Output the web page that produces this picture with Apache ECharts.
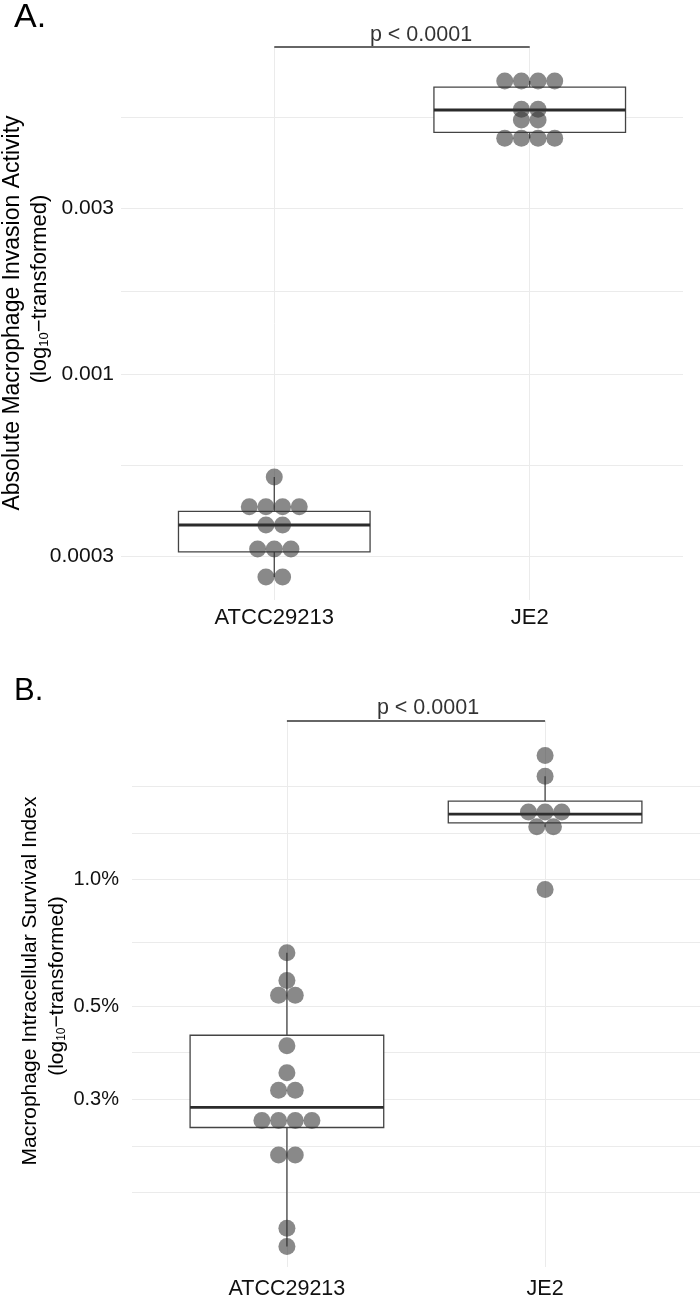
<!DOCTYPE html>
<html>
<head>
<meta charset="utf-8">
<script src="https://cdn.jsdelivr.net/npm/echarts@6/dist/echarts.min.js"></script>
<style>
  html, body { margin: 0; background: #fff; }
  #container { width: 700px; height: 1300px; }
</style>
</head>
<body>
<div id="container"></div>
<script>
const categories = ['ATCC29213', 'JE2'];

// A. absolute macrophage invasion activity
const atccInvasion = [0.000506, 0.000415, 0.000415, 0.000415, 0.000415, 0.000368, 0.000368,
                      0.000314, 0.000314, 0.000314, 0.000261, 0.000261];
const je2Invasion = [0.00695, 0.00695, 0.00695, 0.00695, 0.00577, 0.00577, 0.00537, 0.00537,
                     0.00476, 0.00476, 0.00476, 0.00476];
// [lower whisker, Q1, median, Q3, upper whisker]
const atccInvasionBox = [0.000261, 0.000308, 0.000368, 0.000403, 0.000506];
const je2InvasionBox = [0.00476, 0.00495, 0.00574, 0.00668, 0.00695];
const invasionBreaks = [0.0003, 0.001, 0.003];
const invasionLabels = ['0.0003', '0.001', '0.003'];
const invasionLimits = [0.000224, 0.00871];

// B. macrophage intracellular survival index (%)
const atccSurvival = [0.669, 0.575, 0.530, 0.530, 0.402, 0.347, 0.315, 0.315,
                      0.267, 0.267, 0.267, 0.267, 0.221, 0.221, 0.148, 0.134];
const je2Survival = [1.971, 1.759, 1.447, 1.447, 1.447, 1.334, 1.334, 0.947];
const atccSurvivalBox = [0.134, 0.257, 0.287, 0.426, 0.669];
const je2SurvivalBox = [1.334, 1.363, 1.431, 1.536, 1.759];
const survivalBreaks = [0.3, 0.5, 1.0];
const survivalLabels = ['0.3%', '0.5%', '1.0%'];
const survivalLimits = [0.1197, 2.382];

const pLabel = 'p < 0.0001';

const FONT = 'Liberation Sans, Arial, Helvetica, sans-serif';
const gridColor = '#ebebeb';
const boxColor = '#444';
const dotColor = 'rgba(50,50,50,0.72)';
const dotSize = 17;
const boxWidth = 0.75;

const gridA = { left: 121, top: 47, width: 562, height: 553 };
const gridB = { left: 132, top: 721, width: 568, height: 551 };

const log10 = v => Math.log10(v);

// ggplot-style minor breaks: midpoints between majors, extended one step past each end
function gridValues(breaks, limits) {
  const lo = log10(limits[0]), hi = log10(limits[1]);
  let b = breaks.map(log10);
  const bd = b[1] - b[0];
  if (lo < b[0]) b = [b[0] - bd].concat(b);
  if (hi > b[b.length - 1]) b = b.concat([b[b.length - 1] + bd]);
  const out = [];
  for (let i = 0; i < b.length - 1; i++) out.push(b[i], (b[i] + b[i + 1]) / 2);
  out.push(b[b.length - 1]);
  return out.filter(v => v >= lo - 1e-9 && v <= hi + 1e-9);
}

// center-stacked dot plot: equal values sit side by side
function stackDots(values, cat, step) {
  const counts = {}, seen = {};
  values.forEach(v => { counts[v] = (counts[v] || 0) + 1; });
  return values.map(v => {
    const i = seen[v] || 0;
    seen[v] = i + 1;
    return [cat + (i - (counts[v] - 1) / 2) * step, log10(v)];
  });
}

function renderBox(params, api) {
  const x = api.value(0);
  const lo = api.coord([x, api.value(1)]);
  const q1 = api.coord([x, api.value(2)]);
  const md = api.coord([x, api.value(3)]);
  const q3 = api.coord([x, api.value(4)]);
  const hi = api.coord([x, api.value(5)]);
  const half = api.size([boxWidth, 0])[0] / 2;
  const stroke = { stroke: boxColor, lineWidth: 1.3 };
  return {
    type: 'group',
    children: [
      { type: 'line', shape: { x1: lo[0], y1: lo[1], x2: q1[0], y2: q1[1] }, style: stroke },
      { type: 'line', shape: { x1: q3[0], y1: q3[1], x2: hi[0], y2: hi[1] }, style: stroke },
      { type: 'rect', shape: { x: q1[0] - half, y: q3[1], width: 2 * half, height: q1[1] - q3[1] },
        style: { fill: '#fff', stroke: boxColor, lineWidth: 1.3 } },
      { type: 'line', shape: { x1: md[0] - half, y1: md[1], x2: md[0] + half, y2: md[1] },
        style: { stroke: '#2b2b2b', lineWidth: 2.8 } }
    ]
  };
}

function xAxisFor(idx, labelMargin, fontSize) {
  return {
    type: 'value', gridIndex: idx, min: -0.6, max: 1.6,
    axisLine: { show: false },
    axisTick: { show: false, customValues: [0, 1] },
    axisLabel: {
      customValues: [0, 1], margin: labelMargin,
      formatter: v => categories[Math.round(v)],
      color: '#111', fontSize: fontSize, fontFamily: FONT
    },
    splitLine: { show: true, lineStyle: { color: gridColor, width: 1 } }
  };
}

function yAxisFor(idx, breaks, labels, limits, labelMargin, fontSize) {
  const majors = breaks.map(log10);
  return {
    type: 'value', gridIndex: idx, min: log10(limits[0]), max: log10(limits[1]),
    axisLine: { show: false },
    axisTick: { show: false, customValues: gridValues(breaks, limits) },
    axisLabel: {
      customValues: majors, margin: labelMargin,
      formatter: v => {
        let best = 0;
        majors.forEach((m, i) => { if (Math.abs(m - v) < Math.abs(majors[best] - v)) best = i; });
        return labels[best];
      },
      color: '#111', fontSize: fontSize, fontFamily: FONT
    },
    splitLine: { show: true, lineStyle: { color: gridColor, width: 1 } }
  };
}

function panelSeries(idx, grid, atcc, je2, atccBox, je2Box, limits, pOffset, pDist) {
  const step = dotSize * 0.98 / (grid.width / 2.2);
  const top = log10(limits[1]);
  return [
    {
      type: 'custom', xAxisIndex: idx, yAxisIndex: idx, z: 2, silent: true,
      renderItem: renderBox, encode: { x: 0, y: [1, 2, 3, 4, 5] },
      data: [[0].concat(atccBox.map(log10)), [1].concat(je2Box.map(log10))]
    },
    {
      type: 'scatter', xAxisIndex: idx, yAxisIndex: idx, z: 3, silent: true,
      symbolSize: dotSize, itemStyle: { color: dotColor },
      data: stackDots(atcc, 0, step).concat(stackDots(je2, 1, step))
    },
    {
      type: 'line', xAxisIndex: idx, yAxisIndex: idx, z: 4, silent: true, clip: false,
      symbol: 'none', lineStyle: { color: '#333', width: 1.5 },
      data: [[0, top], [1, top]]
    },
    {
      type: 'scatter', xAxisIndex: idx, yAxisIndex: idx, z: 4, silent: true, clip: false,
      symbolSize: 0,
      label: {
        show: true, position: 'top', distance: pDist, offset: [pOffset, 0],
        formatter: pLabel, color: '#000', fontSize: 21.5, fontFamily: FONT
      },
      data: [[0.5, top]]
    }
  ];
}

const logTitle = (size, sub) => ({
  text: '{a|(log}{s|10}{a|\u2212transformed)}',
  rich: {
    a: { fontSize: size, fontFamily: FONT, fill: '#000' },
    s: { fontSize: sub, fontFamily: FONT, fill: '#000', padding: [9, 0, 0, 0] }
  },
  align: 'center', verticalAlign: 'middle'
});

const chart = echarts.init(document.getElementById('container'), null, { renderer: 'canvas' });

chart.setOption({
  animation: false,
  backgroundColor: '#fff',
  grid: [gridA, gridB],
  xAxis: [xAxisFor(0, 7, 22), xAxisFor(1, 11, 21.5)],
  yAxis: [
    yAxisFor(0, invasionBreaks, invasionLabels, invasionLimits, 7, 21),
    yAxisFor(1, survivalBreaks, survivalLabels, survivalLimits, 13, 20)
  ],
  series: panelSeries(0, gridA, atccInvasion, je2Invasion, atccInvasionBox, je2InvasionBox,
                      invasionLimits, 19, 1)
    .concat(panelSeries(1, gridB, atccSurvival, je2Survival, atccSurvivalBox, je2SurvivalBox,
                        survivalLimits, 12, 2)),
  graphic: [
    { type: 'text', x: 14, y: 1, style: { text: 'A.', font: '34px ' + FONT, fill: '#000' } },
    { type: 'text', x: 14, y: 676, style: { text: 'B.', font: '31px ' + FONT, fill: '#000' } },
    { type: 'text', x: 13, y: 313, rotation: Math.PI / 2,
      style: { text: 'Absolute Macrophage Invasion Activity', font: '23px ' + FONT, fill: '#000',
               align: 'center', verticalAlign: 'middle' } },
    { type: 'text', x: 40, y: 289, rotation: Math.PI / 2, style: logTitle(22, 13) },
    { type: 'text', x: 30, y: 981, rotation: Math.PI / 2,
      style: { text: 'Macrophage Intracellular Survival Index', font: '21px ' + FONT, fill: '#000',
               align: 'center', verticalAlign: 'middle' } },
    { type: 'text', x: 57, y: 986, rotation: Math.PI / 2, style: logTitle(21, 12) }
  ]
});
</script>
</body>
</html>
